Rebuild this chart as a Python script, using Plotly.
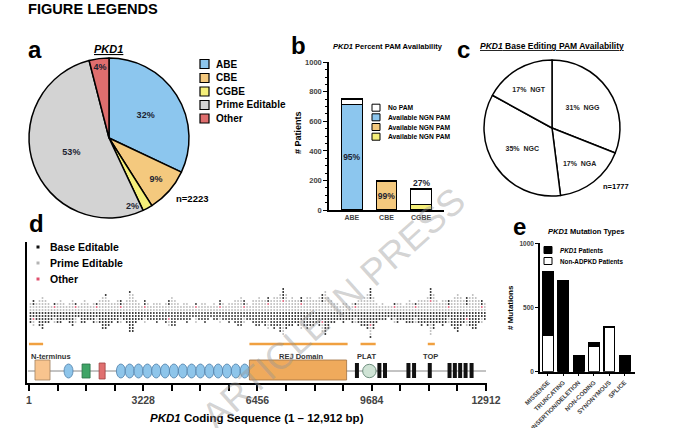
import plotly.graph_objects as go

W, H = 680, 428
FONT = "Liberation Sans, Arial, sans-serif"


def X(px):
    return px / W


def Y(py):
    return 1 - py / H


# ---------------- data ----------------
# panel a
a_labels = ["ABE", "CBE", "CGBE", "Prime Editable", "Other"]
a_values = [32, 9, 2, 53, 4]
a_colors = ["#8cc6ee", "#f4c97e", "#f5ef7a", "#d3d3d3", "#df6e6e"]
a_n = 2223

# panel b
b_cats = ["ABE", "CBE", "CGBE"]
b_avail = [714, 196, 38]
b_nopam = [38, 2, 104]
b_pct = ["95%", "99%", "27%"]
b_colors = ["#8cc6ee", "#f4c97e", "#f5ef7a"]
b_legend = ["No PAM", "Available NGN PAM", "Available NGN PAM", "Available NGN PAM"]
b_legend_colors = ["#ffffff", "#8cc6ee", "#f4c97e", "#f5ef7a"]

# panel c
c_labels = ["NGG", "NGA", "NGC", "NGT"]
c_values = [31, 17, 35, 17]
c_n = 1777

# panel d : variant density along PKD1 coding sequence (bins of 85 bp)
d_bin_bp = 85
d_total = [7, 8, 6, 9, 11, 8, 7, 5, 6, 7,
           8, 6, 5, 7, 9, 6, 4, 7, 8, 6,
           5, 7, 6, 8, 11, 12, 9, 7, 6, 8,
           7, 6, 8, 14, 13, 8, 6, 5, 7, 6,
           5, 6, 7, 6, 5, 7, 8, 10, 9, 6,
           5, 6, 7, 5, 4, 6, 5, 6, 7, 5,
           4, 6, 5, 7, 6, 5, 7, 6, 8, 9,
           10, 7, 6, 5, 8, 9, 10, 8, 9, 10,
           9, 11, 10, 13, 15, 12, 9, 10, 8, 9,
           10, 9, 11, 10, 9, 8, 10, 12, 15, 11,
           8, 7, 6, 5, 7, 6, 5, 7, 6, 8,
           9, 10, 12, 16, 11, 7, 5, 6, 5, 4,
           5, 6, 7, 6, 5, 7, 8, 7, 6, 8,
           9, 8, 10, 15, 12, 8, 7, 9, 8, 7,
           9, 11, 13, 10, 8, 9, 10, 12, 11, 8,
           7, 6, 5]
d_prime = [3, 4, 3, 4, 5, 4, 3, 2, 3, 3,
           4, 3, 2, 3, 4, 3, 2, 3, 4, 3,
           2, 3, 3, 4, 5, 5, 4, 3, 3, 4,
           3, 3, 4, 6, 6, 4, 3, 2, 3, 3,
           2, 3, 3, 3, 2, 3, 4, 5, 4, 3,
           2, 3, 3, 2, 2, 3, 2, 3, 3, 2,
           2, 3, 2, 3, 3, 2, 3, 3, 4, 4,
           5, 3, 3, 2, 4, 4, 5, 4, 4, 5,
           4, 5, 5, 6, 7, 6, 4, 5, 4, 4,
           5, 4, 5, 5, 4, 4, 5, 6, 7, 5,
           4, 3, 3, 2, 3, 3, 2, 3, 3, 4,
           4, 5, 6, 7, 5, 3, 2, 3, 2, 2,
           2, 3, 3, 3, 2, 3, 4, 3, 3, 4,
           4, 4, 5, 7, 6, 4, 3, 4, 4, 3,
           4, 5, 6, 5, 4, 4, 5, 6, 5, 4,
           3, 3, 2]
d_other_bins = [1, 8, 15, 22, 30, 38, 46, 55, 63, 71, 79, 84, 90, 97,
                108, 113, 121, 128, 133, 139, 145, 150]
d_tickvals = [1, 807, 1614, 2421, 3228, 4035, 4842, 5649, 6456, 7263,
              8070, 8877, 9684, 10491, 11298, 12105, 12912]
d_ticktext = ["1", "", "", "", "3228", "", "", "", "6456", "", "", "",
              "9684", "", "", "", "12912"]
d_legend = ["Base Editable", "Prime Editable", "Other"]
d_colors = ["#111111", "#b4b4b4", "#e0506e"]

# protein domains (bp)
dom_nterm = (170, 595)
dom_lrr = 1118
dom_green = (1500, 1727)
dom_red = (1982, 2152)
pkd_repeats = [2596, 2845, 3094, 3346, 3595, 3845, 4094, 4346, 4595, 4844,
               5096, 5345, 5594, 5843, 6095]
dom_rej = (6228, 8974)
dom_plat = 9617
tm_segments = [9209, 9843, 10002, 10664, 10823, 11267, 11825, 11975,
               12125, 12278, 12448]
orange_bars = [(0, 400), (6228, 9002), (9367, 9795), (11267, 11466)]
domain_labels = ["N-terminus", "REJ Domain", "PLAT", "TOP"]
domain_label_pos = [0, 7712, 9549, 11357]

# panel e
e_cats = ["MISSENSE", "TRUNCATING", "INSERTION/DELETION", "NON-CODING",
          "SYNONYMOUS", "SPLICE"]
e_non = [286, 0, 0, 200, 345, 0]
e_pkd = [494, 711, 126, 26, 4, 123]

# ---------------- figure ----------------
fig = go.Figure()

# a: pie
a_text = [f"{v}%" for v in a_values]
a_text[2] = ""
fig.add_trace(go.Pie(
    labels=a_labels, values=a_values, sort=False, direction="clockwise",
    rotation=0, text=a_text, textinfo="text", textposition="inside",
    insidetextorientation="horizontal",
    textfont=dict(family=FONT, size=9, color="#1c2331", weight="bold"),
    marker=dict(colors=a_colors, line=dict(color="black", width=1.5)),
    domain=dict(x=[X(29), X(189)], y=[Y(218), Y(58)]),
    showlegend=False, hoverinfo="skip"))

# c: pie
c_text = [f"{v}%\u00a0\u00a0{l}" for v, l in zip(c_values, c_labels)]
fig.add_trace(go.Pie(
    labels=c_labels, values=c_values, sort=False, direction="clockwise",
    rotation=0, text=c_text, textinfo="text", textposition="inside",
    insidetextorientation="horizontal",
    textfont=dict(family=FONT, size=7, color="#222", weight="bold"),
    marker=dict(colors=["white"] * 4, line=dict(color="black", width=1.5)),
    domain=dict(x=[X(484), X(620)], y=[Y(196), Y(60)]),
    showlegend=False, hoverinfo="skip"))

# b: stacked bars
fig.add_trace(go.Bar(
    x=b_cats, y=b_avail, width=0.6, xaxis="x", yaxis="y",
    marker=dict(color=b_colors, line=dict(color="black", width=1.2)),
    text=[b_pct[0], b_pct[1], ""], textposition="inside",
    insidetextanchor="middle", textangle=0, constraintext="none",
    textfont=dict(family=FONT, size=8.5, color="#1c2331", weight="bold"),
    showlegend=False, hoverinfo="skip"))
fig.add_trace(go.Bar(
    x=b_cats, y=b_nopam, width=0.6, xaxis="x", yaxis="y",
    marker=dict(color="white", line=dict(color="black", width=1.2)),
    showlegend=False, hoverinfo="skip"))

# d: variant scatter
D_MID, D_ROW = 70, 3
pts = {"be": ([], []), "pe": ([], []), "ot": ([], [])}
for i, (tot, pe) in enumerate(zip(d_total, d_prime)):
    b, p = tot - pe, pe
    seq = []
    while b or p:
        if b:
            seq.append("be"); b -= 1
        if p:
            seq.append("pe"); p -= 1
    if i in d_other_bins:
        seq.insert(len(seq) // 2, "ot")
    xc = i * d_bin_bp + d_bin_bp / 2
    for k, cat in enumerate(seq):
        off = ((k + 1) // 2) * (1 if k % 2 else -1)
        pts[cat][0].append(xc)
        pts[cat][1].append(D_MID + off * D_ROW)
for cat, col in zip(["pe", "be", "ot"], [d_colors[1], d_colors[0], d_colors[2]]):
    fig.add_trace(go.Scatter(
        x=pts[cat][0], y=pts[cat][1], mode="markers", xaxis="x2", yaxis="y2",
        marker=dict(symbol="square", size=1.6, color=col, line=dict(width=0)),
        showlegend=False, hoverinfo="skip"))

# e: stacked bars
fig.add_trace(go.Bar(
    x=e_cats, y=e_non, width=0.7, xaxis="x3", yaxis="y3",
    marker=dict(color="white", line=dict(color="black", width=1.2)),
    showlegend=False, hoverinfo="skip"))
fig.add_trace(go.Bar(
    x=e_cats, y=e_pkd, width=0.7, xaxis="x3", yaxis="y3",
    marker=dict(color="black", line=dict(color="black", width=1.2)),
    showlegend=False, hoverinfo="skip"))

# ---------------- shapes ----------------
shapes = []
shapes.append(dict(type="line", xref="x2", yref="y2", x0=-30, x1=12912,
                   y0=12, y1=12, line=dict(color="#888", width=1)))
for s, e in orange_bars:
    shapes.append(dict(type="line", xref="x2", yref="y2", x0=s, x1=e,
                       y0=39, y1=39, line=dict(color="#f0a040", width=2.5)))
shapes.append(dict(type="rect", xref="x2", yref="y2", x0=dom_nterm[0],
                   x1=dom_nterm[1], y0=3, y1=23, fillcolor="#f8c48e",
                   line=dict(color="#a08060", width=0.8)))
shapes.append(dict(type="circle", xref="x2", yref="y2", x0=dom_lrr - 127,
                   x1=dom_lrr + 127, y0=5, y1=19, fillcolor="#8ec5ea",
                   line=dict(color="#4f7fa8", width=0.8)))
shapes.append(dict(type="rect", xref="x2", yref="y2", x0=dom_green[0],
                   x1=dom_green[1], y0=5, y1=19, fillcolor="#3fa466",
                   line=dict(color="#2a6e45", width=0.8)))
shapes.append(dict(type="rect", xref="x2", yref="y2", x0=dom_red[0],
                   x1=dom_red[1], y0=4, y1=20, fillcolor="#e07070",
                   line=dict(color="#a04040", width=0.8)))
for c in pkd_repeats:
    shapes.append(dict(type="circle", xref="x2", yref="y2", x0=c - 127,
                       x1=c + 127, y0=5, y1=19, fillcolor="#8ec5ea",
                       line=dict(color="#4f7fa8", width=0.8)))
shapes.append(dict(type="rect", xref="x2", yref="y2", x0=dom_rej[0],
                   x1=dom_rej[1], y0=3, y1=23, fillcolor="#efaa5c",
                   line=dict(color="#a07040", width=0.8)))
shapes.append(dict(type="circle", xref="x2", yref="y2", x0=dom_plat - 190,
                   x1=dom_plat + 190, y0=5.3, y1=18.7, fillcolor="#cfe3d5",
                   line=dict(color="#6f8f7f", width=1)))
for s in tm_segments:
    shapes.append(dict(type="rect", xref="x2", yref="y2", x0=s, x1=s + 113,
                       y0=5, y1=20, fillcolor="#111", line=dict(width=0)))

# manual legends (paper coordinates)
a_leg_y = [64, 78, 91.5, 105, 118.5]
for yy, col in zip(a_leg_y, a_colors):
    shapes.append(dict(type="rect", xref="paper", yref="paper", x0=X(200),
                       x1=X(209), y0=Y(yy + 4.5), y1=Y(yy - 4.5),
                       fillcolor=col, line=dict(color="black", width=1.2)))
b_leg_y = [107.7, 117.3, 127, 136.7]
for yy, col in zip(b_leg_y, b_legend_colors):
    shapes.append(dict(type="rect", xref="paper", yref="paper", x0=X(372),
                       x1=X(380), y0=Y(yy + 3.5), y1=Y(yy - 3.5),
                       fillcolor=col, line=dict(color="black", width=1)))
d_leg_y = [247, 263, 279]
for yy, col in zip(d_leg_y, d_colors):
    shapes.append(dict(type="rect", xref="paper", yref="paper", x0=X(36.5),
                       x1=X(39.5), y0=Y(yy + 1.5), y1=Y(yy - 1.5),
                       fillcolor=col, line=dict(width=0)))
e_leg_y = [250, 261]
for yy, col in zip(e_leg_y, ["black", "white"]):
    shapes.append(dict(type="rect", xref="paper", yref="paper", x0=X(544),
                       x1=X(552), y0=Y(yy + 3.5), y1=Y(yy - 3.5),
                       fillcolor=col, line=dict(color="black", width=1)))

# ---------------- annotations ----------------
anns = []


def ann(text, px, py, size, xanchor="center", angle=0, color="black",
        bold=True, xref="paper", yref="paper"):
    anns.append(dict(
        text=text, x=X(px) if xref == "paper" else px,
        y=Y(py) if yref == "paper" else py, xref=xref, yref=yref,
        xanchor=xanchor, yanchor="middle", showarrow=False, textangle=angle,
        font=dict(family=FONT, size=size, color=color,
                  weight="bold" if bold else "normal")))


ann("FIGURE LEGENDS", 26, 9.5, 14.6, "left")
for lt, px, py in [("a", 26, 50), ("b", 289, 46), ("c", 455, 49),
                   ("d", 27, 224), ("e", 511, 226)]:
    ann(lt, px, py, 24, "left")

# a
ann("<i><u>PKD1</u></i>", 108, 49, 11)
ann(f"{a_values[2]}%", 132, 206, 9, color="#1c2331")
ann(f"n={a_n}", 174, 198, 9.5, "left")
for yy, lab in zip(a_leg_y, a_labels):
    ann(lab, 214, yy, 10, "left")

# b
ann("<i>PKD1</i> Percent PAM Availability", 387.5, 47, 7.5)
ann("# Patients", 298, 133, 9, angle=-90)
ann(b_pct[2], 2, b_avail[2] + b_nopam[2] + 42, 8.5, xref="x", yref="y",
    color="#1c2331")
for yy, lab in zip(b_leg_y, b_legend):
    ann(lab, 386, yy, 6.7, "left")

# c
ann("<i><u>PKD1</u></i><u> Base Editing PAM Availability</u>", 551.5, 46, 8.5)
ann(f"n={c_n}", 616, 186, 7.5)

# d
for yy, lab in zip(d_leg_y, d_legend):
    ann(lab, 48, yy, 10.5, "left")
for lab, pos in zip(domain_labels, domain_label_pos):
    anns.append(dict(text=lab, x=pos, y=27, xref="x2", yref="y2",
                     xanchor="left" if pos == 0 else "center", yanchor="middle",
                     showarrow=False,
                     font=dict(family=FONT, size=7.5, color="#333",
                               weight="bold")))
ann("<i>PKD1</i> Coding Sequence (1 \u2013 12,912 bp)", 257, 418, 11.5)

# e
ann("<i>PKD1</i> Mutation Types", 586, 232, 7.5)
ann("# Mutations", 510, 308, 8, angle=-90)
ann("<i>PKD1</i> Patients", 558, 250, 6.3, "left")
ann("Non-ADPKD Patients", 558, 261, 6.3, "left")

# watermark
anns.append(dict(text="ARTICLE IN PRESS", x=X(333), y=Y(308), xref="paper",
                 yref="paper", xanchor="center", yanchor="middle",
                 showarrow=False, textangle=-42,
                 font=dict(family=FONT, size=37, color="rgba(150,150,150,0.42)")))

common = dict(automargin=False, showgrid=False, zeroline=False)

fig.update_layout(
    template="none",
    width=W, height=H, margin=dict(l=0, r=0, t=0, b=0, pad=0),
    autosize=False,
    paper_bgcolor="white", plot_bgcolor="white", barmode="stack",
    showlegend=False, font=dict(family=FONT),
    xaxis=dict(domain=[X(329), X(444)], anchor="y", range=[-0.66, 2.66],
               showline=True, linecolor="black", linewidth=1.5, ticks="",
               tickfont=dict(family=FONT, size=7, weight="bold"), **common),
    yaxis=dict(domain=[Y(210), Y(62.3)], anchor="x", range=[0, 1000],
               showline=True, linecolor="black", linewidth=1.5,
               ticks="outside", ticklen=4, tickwidth=1.2, tickcolor="black",
               dtick=200, minor=dict(dtick=50, ticks="outside", ticklen=2,
                                     tickcolor="black", tickwidth=1,
                                     showgrid=False),
               tickfont=dict(family=FONT, size=7.5, weight="bold"), **common),
    xaxis2=dict(domain=[X(27), X(487)], anchor="y2", range=[-55.5, 12940],
                showline=True, linecolor="black", linewidth=2,
                ticks="outside", ticklen=6, tickwidth=2, tickcolor="black",
                tickmode="array", tickvals=d_tickvals, ticktext=d_ticktext,
                tickfont=dict(family=FONT, size=10.5, weight="bold"), **common),
    yaxis2=dict(domain=[Y(383), Y(242)], anchor="x2", range=[0, 141],
                showline=True, linecolor="black", linewidth=2, ticks="",
                showticklabels=False, **common),
    xaxis3=dict(domain=[X(540), X(635)], anchor="y3", range=[-0.52, 5.68],
                showline=True, linecolor="black", linewidth=1.5,
                ticks="outside", ticklen=3, tickcolor="black", tickangle=-45,
                tickfont=dict(family=FONT, size=6.2, weight="bold"), **common),
    yaxis3=dict(domain=[Y(371.7), Y(243.3)], anchor="x3", range=[0, 1000],
                showline=True, linecolor="black", linewidth=1.5,
                ticks="outside", ticklen=3, tickcolor="black",
                tickvals=[0, 500, 1000],
                tickfont=dict(family=FONT, size=6.5, weight="bold"), **common),
    shapes=shapes, annotations=anns,
)

# remove the browser's default 8px page margin so the figure fills the window
fig.write_html("out.html",
               config={"displayModeBar": False},
               post_script="document.body.style.margin='0';")
